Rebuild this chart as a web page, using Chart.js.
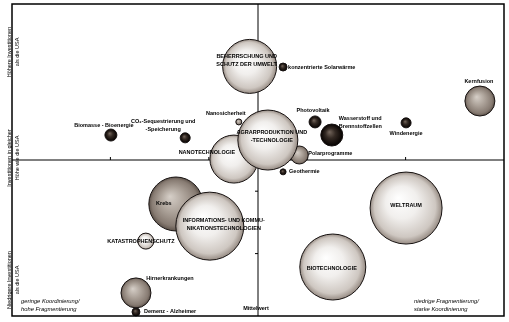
<!DOCTYPE html>
<html lang="de">
<head>
<meta charset="utf-8">
<script src="https://cdn.jsdelivr.net/npm/chart.js@4/dist/chart.umd.min.js"></script>
<style>
  html, body { margin: 0; padding: 0; background: #fff; }
</style>
</head>
<body>
<canvas id="portfolio" width="509" height="322"></canvas>
<script>
// Forschungsthemen: Koordinierung (x) gegen Investitionen im Vergleich zu den USA (y)
const themen = [
  'BEHERRSCHUNG UND\nSCHUTZ DER UMWELT', 'konzentrierte Solarwärme', 'Kernfusion', 'Photovoltaik',
  'Wasserstoff und\nBrennstoffzellen', 'Windenergie', 'Biomasse - Bioenergie',
  'CO₂-Sequestrierung und\n-Speicherung', 'Nanosicherheit', 'NANOTECHNOLOGIE', 'Polarprogramme',
  'AGRARPRODUKTION UND\n-TECHNOLOGIE', 'Geothermie', 'Krebs',
  'INFORMATIONS- UND KOMMU-\nNIKATIONSTECHNOLOGIEN', 'KATASTROPHENSCHUTZ', 'Hirnerkrankungen',
  'Demenz - Alzheimer', 'WELTRAUM', 'BIOTECHNOLOGIE'
];
const koordinierung = [4.83, 5.51, 9.51, 6.16, 6.50, 8.01, 2.01, 3.52, 4.61, 4.51, 5.84, 5.20, 5.51, 3.33, 4.02, 2.72, 2.52, 2.52, 8.01, 6.52];
const investition   = [8.00, 7.98, 6.89, 6.22, 5.80, 6.19, 5.80, 5.71, 6.22, 5.03, 5.16, 5.64, 4.62, 3.59, 2.88, 2.40, 0.74, 0.13, 3.46, 1.57];
const umfang        = [27, 4, 15, 6, 11, 5, 6, 5, 3, 24, 9, 30, 3, 27, 34, 8, 15, 4, 36, 33];
const gruppe = ['hell', 'dunkel', 'mittel', 'dunkel', 'dunkel', 'dunkel', 'dunkel', 'dunkel', 'mittel', 'hell',
                'mittel', 'hell', 'dunkel', 'mittel', 'hell', 'hell', 'mittel', 'dunkel', 'hell', 'hell'];
const achsenTicks = [2, 4, 6, 8];
const mitte = 5;

// Beschriftung je Thema: Versatz zur Kugelmitte in px und Ausrichtung
const beschriftung = [
  [-3, -10, 'center'], [5, 0, 'left'], [-1, -20, 'center'], [-2, -11, 'center'], [7, -17, 'left'],
  [0, 11, 'center'], [-7, -10, 'center'], [-22, -16, 'center'], [-13, -8, 'center'], [-27, -7, 'center'],
  [9, -2, 'left'], [4, -8, 'center'], [6, 0, 'left'], [-12, -1, 'center'], [14, -6, 'center'],
  [-5, 0, 'center'], [34, -14, 'center'], [8, 0, 'left'], [0, -3, 'center'], [-1, 1, 'center']
];

const farben = {
  hell:   ['#ffffff', '#f1efed', '#cec7c1', '#968b83'],
  mittel: ['#d6cfc8', '#ada39a', '#877b72', '#5e534b'],
  dunkel: ['#75675d', '#332923', '#120c09', '#040202']
};

function kugel(ctx) {
  const raw = ctx.raw;
  const chart = ctx.chart;
  if (!raw || !chart.chartArea) return '#cccccc';
  const cx = chart.scales.x.getPixelForValue(raw.x);
  const cy = chart.scales.y.getPixelForValue(raw.y);
  const r = raw.r;
  const g = chart.ctx.createRadialGradient(cx - r * 0.22, cy - r * 0.28, 0, cx, cy, r);
  const f = farben[gruppe[ctx.dataIndex]];
  g.addColorStop(0, f[0]);
  g.addColorStop(0.45, f[1]);
  g.addColorStop(0.85, f[2]);
  g.addColorStop(1, f[3]);
  return g;
}

const punkte = themen.map((t, i) => ({ x: koordinierung[i], y: investition[i], r: umfang[i] }));

// Achsenkreuz mit Strichen, hinter den Kugeln
const kreuz = {
  id: 'kreuz',
  beforeDatasetsDraw(chart) {
    const { ctx, chartArea: a, scales: { x, y } } = chart;
    const mx = x.getPixelForValue(mitte), my = y.getPixelForValue(mitte);
    ctx.save();
    ctx.strokeStyle = '#000';
    ctx.lineWidth = 1;
    ctx.beginPath();
    ctx.moveTo(a.left, my); ctx.lineTo(a.right, my);
    ctx.moveTo(mx, a.top); ctx.lineTo(mx, a.bottom);
    achsenTicks.forEach(v => {
      const px = x.getPixelForValue(v), py = y.getPixelForValue(v);
      ctx.moveTo(px, my); ctx.lineTo(px, my - 3);
      ctx.moveTo(mx, py); ctx.lineTo(mx - 3, py);
    });
    ctx.stroke();
    ctx.restore();
  }
};

// Texte und Rahmen über den Kugeln
const texte = {
  id: 'texte',
  afterDatasetsDraw(chart) {
    const { ctx, chartArea: a, scales: { x, y } } = chart;
    ctx.save();
    ctx.fillStyle = '#000';
    ctx.textBaseline = 'middle';
    ctx.font = 'bold 5.5px "Liberation Sans", Arial, sans-serif';
    themen.forEach((t, i) => {
      const [dx, dy, al] = beschriftung[i];
      const px = x.getPixelForValue(koordinierung[i]) + dx;
      const py = y.getPixelForValue(investition[i]) + dy;
      ctx.textAlign = al;
      t.split('\n').forEach((z, k) => ctx.fillText(z, px, py + k * 8));
    });

    ctx.textAlign = 'center';
    ctx.fillText('Mittelwert', x.getPixelForValue(mitte) - 2, a.bottom - 8);

    ctx.font = 'italic 5.8px "Liberation Sans", Arial, sans-serif';
    ctx.textAlign = 'left';
    ctx.fillText('geringe Koordinierung/', a.left + 9, a.bottom - 15);
    ctx.fillText('hohe Fragmentierung', a.left + 9, a.bottom - 7);
    ctx.fillText('niedrige Fragmentierung/', a.right - 90, a.bottom - 15);
    ctx.fillText('starke Koordinierung', a.right - 90, a.bottom - 7);

    // Investitionsniveau, senkrecht am linken Rand
    ctx.font = '5.5px "Liberation Sans", Arial, sans-serif';
    ctx.textAlign = 'center';
    const stufen = [
      ['Höhere Investitionen', 'als die USA', a.top + 48],
      ['Investitionen in gleicher', 'Höhe wie die USA', a.top + 154],
      ['Niedrigere Investitionen', 'als die USA', a.top + 276]
    ];
    stufen.forEach(([z1, z2, py]) => {
      ctx.save();
      ctx.translate(a.left - 3, py);
      ctx.rotate(-Math.PI / 2);
      ctx.fillText(z1, 0, 0);
      ctx.fillText(z2, 0, 8);
      ctx.restore();
    });

    ctx.strokeStyle = '#000';
    ctx.lineWidth = 1.5;
    ctx.strokeRect(a.left, a.top, a.right - a.left, a.bottom - a.top);
    ctx.restore();
  }
};

new Chart(document.getElementById('portfolio'), {
  type: 'bubble',
  data: {
    datasets: [{
      data: punkte,
      backgroundColor: kugel,
      borderColor: '#161110',
      borderWidth: 1,
      clip: false
    }]
  },
  options: {
    responsive: false,
    animation: false,
    events: [],
    layout: { autoPadding: false, padding: { left: 12, right: 5, top: 4, bottom: 6 } },
    plugins: { legend: { display: false }, tooltip: { enabled: false } },
    scales: {
      x: { type: 'linear', min: 0, max: 10, display: false },
      y: { type: 'linear', min: 0, max: 10, display: false }
    }
  },
  plugins: [kreuz, texte]
});
</script>
</body>
</html>
